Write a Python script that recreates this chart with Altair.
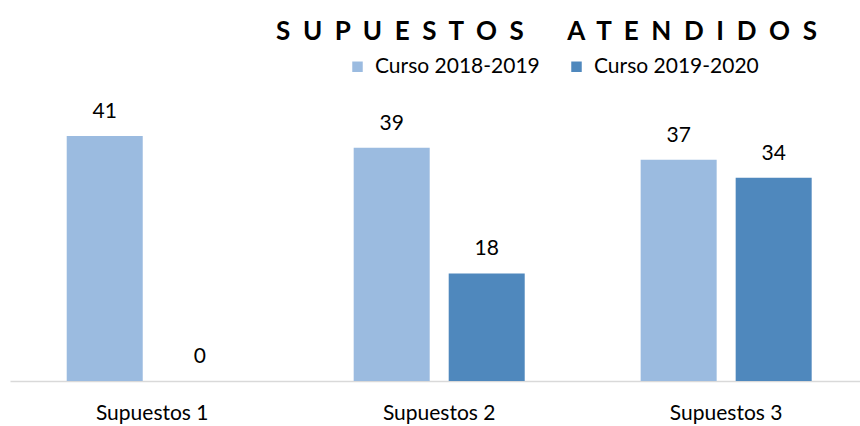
import altair as alt
import pandas as pd

categories = ["Supuestos 1", "Supuestos 2", "Supuestos 3"]
series = ["Curso 2018-2019", "Curso 2019-2020"]
values_2018 = [41, 39, 37]
values_2019 = [0, 18, 34]
colors = ["#9BBBE0", "#4F88BD"]
title_words = ["SUPUESTOS", "ATENDIDOS"]

rows = []
for c, a, b in zip(categories, values_2018, values_2019):
    rows.append({"cat": c, "serie": series[0], "val": a})
    rows.append({"cat": c, "serie": series[1], "val": b})
df = pd.DataFrame(rows)

FONT = "Lato"
NB = "\u00a0"
title_text = (NB * 7).join((NB * 2).join(w) for w in title_words)

base = alt.Chart(df).encode(
    x=alt.X(
        "cat:N", sort=categories, title=None,
        scale=alt.Scale(paddingInner=0.404, paddingOuter=0.183, align=0.54),
        axis=alt.Axis(labelAngle=0, ticks=False, domainColor="#D9D9D9", domainWidth=1.3,
                      labelFontSize=21, labelFont=FONT, labelColor="#000", labelPadding=21),
    ),
    xOffset=alt.XOffset("serie:N", sort=series, scale=alt.Scale(paddingInner=0.2, paddingOuter=0)),
    y=alt.Y("val:Q", scale=alt.Scale(domain=[0, 45]), axis=None),
)

bars = base.mark_bar().encode(
    color=alt.Color(
        "serie:N", sort=series,
        scale=alt.Scale(domain=series, range=colors),
        legend=alt.Legend(title=None, orient="none", legendX=337, legendY=-56, direction="horizontal",
                          symbolType="square", symbolSize=110, symbolStrokeWidth=0,
                          labelFont=FONT, labelFontSize=21, labelColor="#000", columnPadding=26,
                          labelOffset=7, labelLimit=0),
    )
)

text = base.mark_text(dy=-24, fontSize=21, font=FONT, color="#000").encode(text="val:Q")

chart = alt.layer(bars, text).properties(
    width=850, height=269,
    title=alt.TitleParams(title_text, font=FONT, fontSize=26,
                          fontWeight="bold", anchor="start", dx=266, offset=11, color="#000"),
    autosize=alt.AutoSizeParams(type="none"),
    padding={"left": 10, "top": 112, "right": 0, "bottom": 45},
).configure_view(stroke=None)

chart.save("out.html", embed_options={"renderer": "svg", "actions": False})
